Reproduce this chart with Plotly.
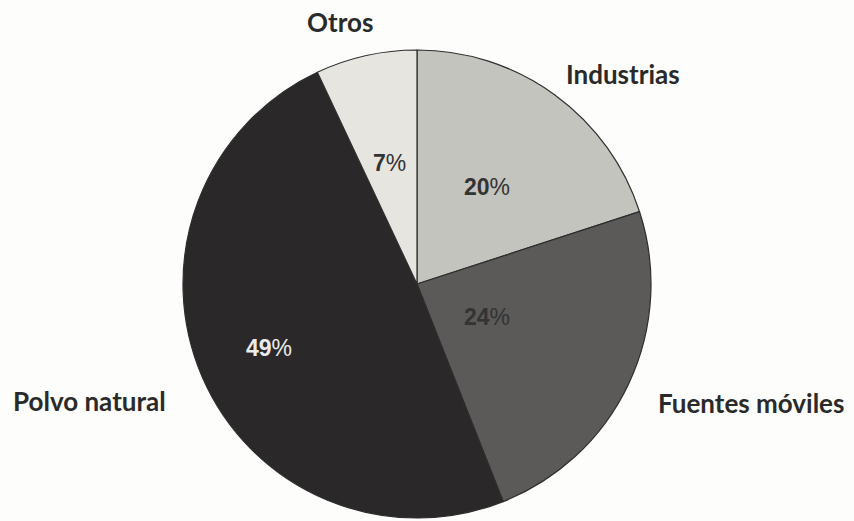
import math
import plotly.graph_objects as go

# Sources of particulate matter (share of total, %)
categories = ["Industrias", "Fuentes móviles", "Polvo natural", "Otros"]
shares = [20, 24, 49, 7]

slice_colors = ["#c4c4bf", "#5b5a58", "#2a2828", "#e7e5df"]
pct_colors = ["#333333", "#333333", "#ebebeb", "#333333"]
pct_radius = [0.51, 0.33, 0.69, 0.53]  # label distance along each slice bisector, as fraction of radius

W, H = 854, 521
dom_x = [183 / W, 651 / W]
dom_y = [1 - 518 / H, 1 - 50 / H]

fig = go.Figure(
    go.Pie(
        labels=categories,
        values=shares,
        sort=False,
        direction="clockwise",
        rotation=0,
        marker=dict(colors=slice_colors, line=dict(color="#2e2e2e", width=1.2)),
        textinfo="none",
        hoverinfo="label+percent",
        domain=dict(x=dom_x, y=dom_y),
        showlegend=False,
    )
)

# pie geometry in pixels
cx = (dom_x[0] + dom_x[1]) / 2 * W
cy = (1 - (dom_y[0] + dom_y[1]) / 2) * H
R = min((dom_x[1] - dom_x[0]) * W, (dom_y[1] - dom_y[0]) * H) / 2

annotations = []
total = sum(shares)
start = 0.0
for val, col, rf in zip(shares, pct_colors, pct_radius):
    mid = (start + val / 2) / total * 2 * math.pi
    start += val
    px = cx + rf * R * math.sin(mid)
    py = cy - rf * R * math.cos(mid)
    annotations.append(dict(
        x=px / W, y=1 - py / H, xref="paper", yref="paper",
        text=f"<b>{val}</b>%", showarrow=False,
        font=dict(family="Liberation Sans, Arial, sans-serif", size=23, color=col),
        xanchor="center", yanchor="middle",
    ))

# category names outside the pie
name_pos = {
    "Otros": (340, 22),
    "Industrias": (623, 74),
    "Fuentes móviles": (751, 403),
    "Polvo natural": (89, 401),
}
for name in categories:
    px, py = name_pos[name]
    annotations.append(dict(
        x=px / W, y=1 - py / H, xref="paper", yref="paper",
        text=f"<b>{name}</b>", showarrow=False,
        font=dict(family="Lato, Open Sans, sans-serif", size=26, color="#2a2a2a"),
        xanchor="center", yanchor="middle",
    ))

fig.update_layout(
    width=W, height=H,
    margin=dict(l=0, r=0, t=0, b=0),
    paper_bgcolor="#fdfdfb",
    plot_bgcolor="#fdfdfb",
    annotations=annotations,
)

fig.write_html("out.html")
